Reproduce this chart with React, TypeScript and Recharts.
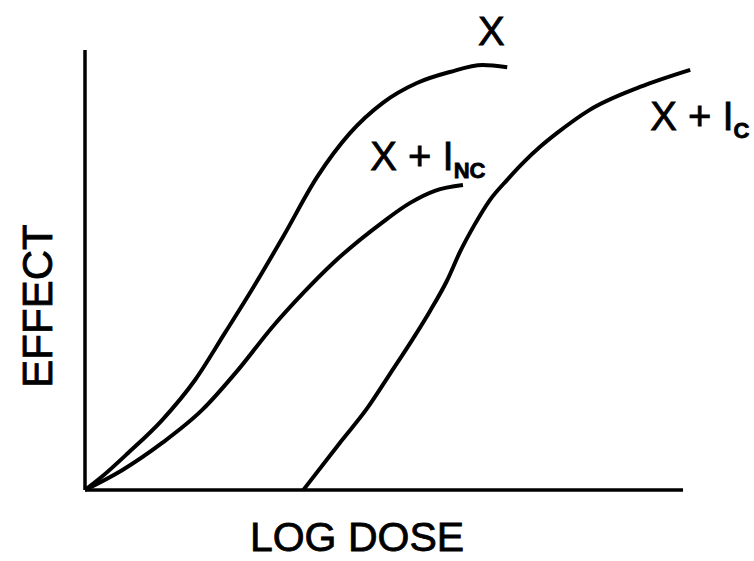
import React from 'react';
import { LineChart, Line, XAxis, YAxis, ReferenceLine, ReferenceDot } from 'recharts';

// log dose (0-100 along the axis) vs effect (0-100)
const agonist = [
  { x: 0, y: 0 }, { x: 2.8, y: 3.0 }, { x: 7.2, y: 8.4 }, { x: 12.9, y: 15.9 },
  { x: 18.4, y: 25.0 }, { x: 23.4, y: 35.7 }, { x: 27.9, y: 45.5 }, { x: 33.1, y: 57.5 },
  { x: 38.8, y: 71.1 }, { x: 44.3, y: 81.1 }, { x: 49.8, y: 88.0 }, { x: 55.5, y: 92.5 },
  { x: 61.0, y: 95.0 }, { x: 66.5, y: 96.6 }, { x: 70.6, y: 96.1 },
];

const nonCompetitive = [
  { x: 0, y: 0 }, { x: 6.2, y: 4.5 }, { x: 12.9, y: 10.7 }, { x: 19.6, y: 18.2 },
  { x: 25.6, y: 27.3 }, { x: 31.3, y: 37.0 }, { x: 36.5, y: 44.8 }, { x: 41.5, y: 51.6 },
  { x: 49.8, y: 60.9 }, { x: 54.3, y: 65.2 }, { x: 58.5, y: 68.0 }, { x: 63.2, y: 69.3 },
];

const competitive = [
  { x: 36.5, y: 0 }, { x: 42.6, y: 10.7 }, { x: 47.2, y: 18.6 }, { x: 51.0, y: 26.4 },
  { x: 54.8, y: 34.3 }, { x: 57.7, y: 40.7 }, { x: 60.5, y: 47.5 }, { x: 62.7, y: 54.1 },
  { x: 65.1, y: 60.2 }, { x: 67.7, y: 65.9 }, { x: 70.6, y: 70.5 }, { x: 73.2, y: 74.3 },
  { x: 76.1, y: 78.0 }, { x: 78.9, y: 81.1 }, { x: 84.4, y: 86.4 }, { x: 92.8, y: 91.6 },
  { x: 101.2, y: 95.5 },
];

const curveLabels = [
  { x: 65.7, y: 101.1, main: 'X', sub: '' },
  { x: 47.7, y: 72.7, main: 'X + I', sub: 'NC' },
  { x: 94.5, y: 81.8, main: 'X + I', sub: 'C' },
];

const FONT = '"Liberation Sans", Arial, sans-serif';

const CurveLabel = ({ cx, cy, main, sub }: any) => (
  <text x={cx} y={cy} fontFamily={FONT} fontSize={40} fill="#000" stroke="#000" strokeWidth={0.8}>
    {main}
    {sub && <tspan fontSize={22} fontWeight="bold" dy={8}>{sub}</tspan>}
  </text>
);

export default function App() {
  return (
    <div style={{ position: 'absolute', left: 0, top: 0, background: '#fff' }}>
      <LineChart width={754} height={561} margin={{ top: 50, right: 59, bottom: 71, left: 85 }}>
        <XAxis type="number" dataKey="x" domain={[0, 102]} hide />
        <YAxis type="number" dataKey="y" domain={[0, 100]} hide />
        <ReferenceLine segment={[{ x: 0, y: 0 }, { x: 0, y: 100 }]} stroke="#000" strokeWidth={3.5} />
        <ReferenceLine segment={[{ x: 0, y: 0 }, { x: 100, y: 0 }]} stroke="#000" strokeWidth={3.5} />
        <Line data={agonist} dataKey="y" type="monotone" stroke="#000" strokeWidth={4} dot={false} isAnimationActive={false} />
        <Line data={nonCompetitive} dataKey="y" type="monotone" stroke="#000" strokeWidth={4} dot={false} isAnimationActive={false} />
        <Line data={competitive} dataKey="y" type="monotone" stroke="#000" strokeWidth={4} dot={false} isAnimationActive={false} />
        {curveLabels.map((l) => (
          <ReferenceDot
            key={l.main + l.sub}
            x={l.x}
            y={l.y}
            r={0}
            ifOverflow="visible"
            shape={(p: any) => <CurveLabel cx={p.cx} cy={p.cy} main={l.main} sub={l.sub} />}
          />
        ))}
        <text x={357} y={551} textAnchor="middle" fontFamily={FONT} fontSize={41} fill="#000" stroke="#000" strokeWidth={0.8}>
          LOG DOSE
        </text>
        <text
          x={52}
          y={306}
          transform="rotate(-90 52 306)"
          textAnchor="middle"
          fontFamily={FONT}
          fontSize={42}
          fill="#000"
          stroke="#000"
          strokeWidth={0.8}
        >
          EFFECT
        </text>
      </LineChart>
    </div>
  );
}
